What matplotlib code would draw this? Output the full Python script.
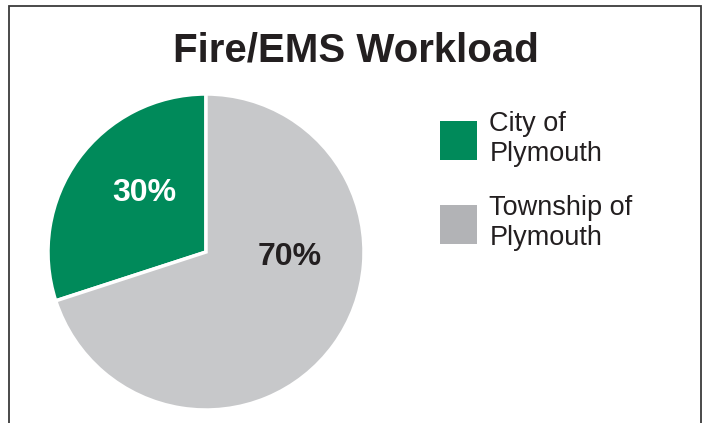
import matplotlib
matplotlib.use('Agg')
import matplotlib.pyplot as plt
from matplotlib.patches import Patch, Rectangle

plt.rcParams['font.family'] = ['Liberation Sans', 'DejaVu Sans']

# data
categories = ['City of\nPlymouth', 'Township of\nPlymouth']
shares = [30, 70]
pct_labels = ['30%', '70%']
slice_colors = ['#008a5a', '#c7c8ca']
legend_colors = ['#008a5a', '#b2b3b6']
label_colors = ['white', '#231f20']

W, H = 706, 423
fig = plt.figure(figsize=(W / 100, H / 100), dpi=100)

# outer frame (open at the bottom, as in the cropped original)
fig.patches.append(Rectangle((9 / W, -0.05), 692 / W, (H - 6) / H + 0.05,
                             transform=fig.transFigure, fill=False,
                             edgecolor='#3a3a3a', linewidth=1.3))

# pie, centred at (206, 252) px with radius ~158 px
cx, cy, r = 206, H - 252, 158
ax = fig.add_axes([(cx - r) / W, (cy - r) / H, 2 * r / W, 2 * r / H])
wedges, _ = ax.pie(shares, colors=slice_colors, startangle=90,
                   counterclock=True, radius=1.0,
                   wedgeprops=dict(edgecolor='white', linewidth=2.5))
ax.set_xlim(-1, 1)
ax.set_ylim(-1, 1)
ax.set_aspect('equal')
ax.axis('off')

# percentage labels, placed where the original puts them
label_pos = [(-0.39, 0.375), (0.53, -0.03)]
for (x, y), txt, c in zip(label_pos, pct_labels, label_colors):
    ax.text(x, y, txt, ha='center', va='center', color=c,
            fontsize=23, fontweight='bold')

fig.text(356 / W, (H - 62) / H, 'Fire/EMS Workload', ha='center',
         va='baseline', fontsize=29, fontweight='bold', color='#231f20')

handles = [Patch(facecolor=c, edgecolor='none') for c in legend_colors]
leg = fig.legend(handles, categories, loc='upper left',
                 bbox_to_anchor=(440 / W, (H - 111) / H), frameon=False,
                 fontsize=19.5, handlelength=1.37, handleheight=1.85,
                 handletextpad=0.45, labelspacing=1.05, borderpad=0,
                 borderaxespad=0, labelcolor='#231f20')
for t in leg.get_texts():
    t.set_linespacing(1.2)

fig.savefig('out.png', dpi=100)
